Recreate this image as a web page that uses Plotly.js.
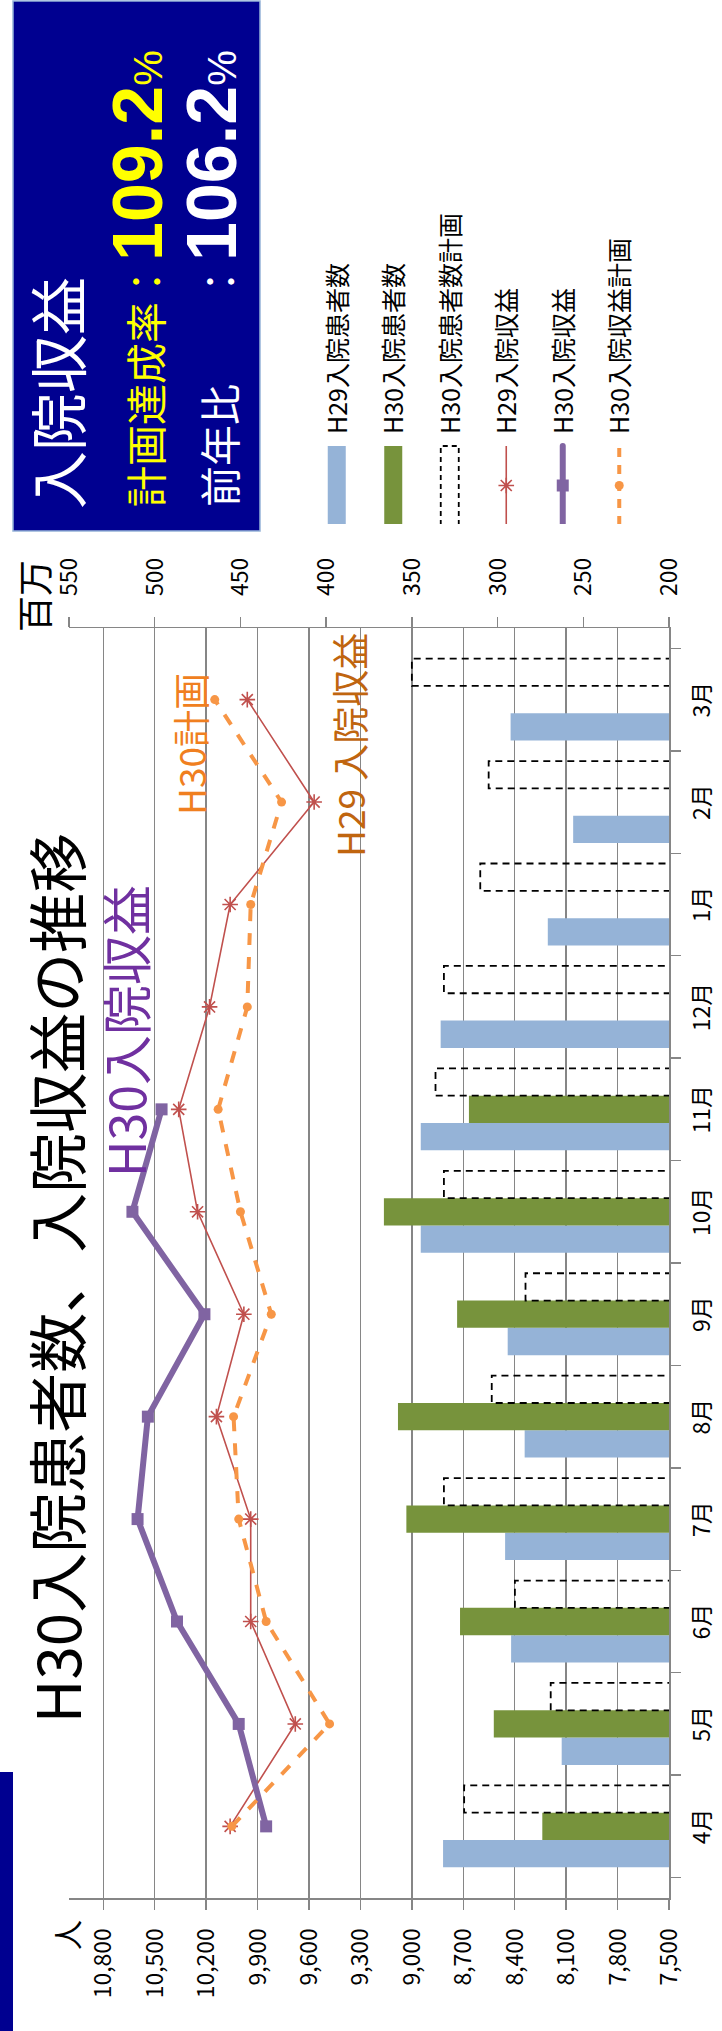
<!DOCTYPE html>
<html><head><meta charset="utf-8">
<script src="https://cdn.plot.ly/plotly-3.0.1.min.js"></script>
<style>
html,body{margin:0;padding:0;width:722px;height:2031px;overflow:hidden;background:#fff;}
#wrap{position:absolute;left:0;top:0;width:2031px;height:722px;transform-origin:0 0;transform:translate(0px,2031px) rotate(-90deg);}
#chart{width:2031px;height:722px;}
</style></head><body>
<div id="wrap"><div id="chart"></div></div>
<script>
// ---- data ----
const months = ['4月','5月','6月','7月','8月','9月','10月','11月','12月','1月','2月','3月'];
const h29Patients     = [8818,8126,8421,8456,8342,8441,8948,8948,8832,8207,8059,8424];
const h30Patients     = [8239,8522,8719,9032,9081,8736,9163,8667,null,null,null,null];
const h30PatientsPlan = [8695,8190,8399,8813,8534,8337,8813,8862,8813,8601,8552,9000];
const h29Revenue      = [456,418,444,444,464,448,475,486,468,456,407,446];
const h30Revenue      = [435,451,487,510,504,471,513,496,null,null,null,null];
const h30RevenuePlan  = [455,398,435,451,454,432,450,463,446,444,426,465];
const seriesNames = ['H29入院患者数','H30入院患者数','H30入院患者数計画','H29入院収益','H30入院収益','H30入院収益計画'];
const seriesColors = ['#95B3D7','#77933C','#000000','#C0504D','#8064A2','#F79646'];
const titleText = 'H30入院患者数、入院収益の推移';
const boxTitle = '入院収益';
const planRate = '109.2';
const prevRate = '106.2';

// ---- layout helpers (figure drawn landscape, then rotated) ----
const W = 2031, H = 722;
const px = X => X / W;
const py = Y => 1 - Y / H;
const JP = '"Noto Sans CJK JP", "Noto Sans", sans-serif';
const axisGray = '#868686';

const traces = [
  {type:'bar', name:seriesNames[0], x:months, y:h29Patients, legendgroup:'a',
   marker:{color:seriesColors[0], line:{width:0}}},
  {type:'bar', name:seriesNames[1], x:months, y:h30Patients, legendgroup:'b',
   marker:{color:seriesColors[1], line:{width:0}}},
  {type:'bar', name:seriesNames[2], x:months, y:h30PatientsPlan, legendgroup:'c',
   marker:{color:'rgba(255,255,255,0)', line:{color:seriesColors[2], width:1.8}}},
  {type:'scatter', mode:'lines+markers', name:seriesNames[3], x:months, y:h29Revenue, yaxis:'y2', legendgroup:'d',
   line:{color:seriesColors[3], width:1.6},
   marker:{symbol:'asterisk-open', size:13, color:seriesColors[3], line:{color:seriesColors[3], width:1.6}}},
  {type:'scatter', mode:'lines+markers', name:seriesNames[4], x:months, y:h30Revenue, yaxis:'y2', legendgroup:'e',
   line:{color:seriesColors[4], width:6},
   marker:{symbol:'square', size:12, color:seriesColors[4]}},
  {type:'scatter', mode:'lines+markers', name:seriesNames[5], x:months, y:h30RevenuePlan, yaxis:'y2', legendgroup:'f',
   line:{color:seriesColors[5], width:4, dash:'dash'},
   marker:{symbol:'circle', size:9, color:seriesColors[5]}}
];

const tickFont = {family:JP, size:23, color:'#000'};

const layout = {
  width:W, height:H,
  margin:{l:0, r:0, t:0, b:0},
  paper_bgcolor:'#fff', plot_bgcolor:'rgba(0,0,0,0)',
  barmode:'group', bargap:0.2, bargroupgap:0,
  showlegend:true,
  legend:{x:px(1507), y:py(314), xanchor:'left', yanchor:'top', orientation:'v',
          font:{family:JP, size:25, color:'#000'}, tracegroupgap:21, itemwidth:80,
          bgcolor:'rgba(0,0,0,0)', traceorder:'grouped', borderwidth:0},
  title:{text:titleText, font:{family:JP, size:60, color:'#000'},
         xref:'paper', yref:'container', x:px(753), y:py(60), xanchor:'center', yanchor:'middle'},
  xaxis:{type:'category', domain:[px(133), px(1403)], anchor:'y',
         showline:true, linecolor:axisGray, linewidth:1.5, showgrid:false,
         ticks:'outside', tickson:'boundaries', ticklen:10, tickcolor:axisGray, tickwidth:1.5,
         tickfont:tickFont, ticklabelstandoff:12, fixedrange:true},
  yaxis:{domain:[py(669), py(69)], range:[7500,11000], tick0:7500, dtick:300, tickformat:',d',
         showgrid:true, gridcolor:axisGray, gridwidth:1.5, zeroline:false,
         showline:true, linecolor:axisGray, linewidth:1.5,
         ticks:'outside', ticklen:10, tickcolor:axisGray, tickwidth:1.5,
         tickfont:tickFont, ticklabelstandoff:14, fixedrange:true},
  yaxis2:{overlaying:'y', side:'right', anchor:'x', range:[200,550], tick0:200, dtick:50,
          showgrid:false, zeroline:false,
          showline:true, linecolor:axisGray, linewidth:1.5,
          ticks:'outside', ticklen:10, tickcolor:axisGray, tickwidth:1.5,
          tickfont:tickFont, ticklabelstandoff:16, fixedrange:true},
  shapes:[
    {type:'rect', xref:'paper', yref:'paper', x0:0, x1:px(259), y0:py(0), y1:py(13),
     fillcolor:'#000090', line:{width:0}, layer:'below'},
    {type:'rect', xref:'paper', yref:'paper', x0:px(1500), x1:px(2030), y0:py(13), y1:py(260),
     fillcolor:'#000090', line:{color:'#95B3D7', width:1.5}, layer:'below'}
  ],
  annotations:[
    {text:'人', xref:'paper', yref:'paper', x:px(96), y:py(66), xanchor:'center', yanchor:'middle',
     showarrow:false, font:{family:JP, size:30, color:'#000'}},
    {text:'百万', xref:'paper', yref:'paper', x:px(1435), y:py(33), xanchor:'center', yanchor:'middle',
     showarrow:false, font:{family:JP, size:36, color:'#000'}},
    {text:'H30入院収益', xref:'paper', yref:'paper', x:px(1000), y:py(124), xanchor:'center', yanchor:'middle',
     showarrow:false, font:{family:JP, size:50, color:'#7030A0'}},
    {text:'H30計画', xref:'paper', yref:'paper', x:px(1287), y:py(190), xanchor:'center', yanchor:'middle',
     showarrow:false, font:{family:JP, size:37, color:'#F07F20'}},
    {text:'H29 入院収益', xref:'paper', yref:'paper', x:px(1286), y:py(349), xanchor:'center', yanchor:'middle',
     showarrow:false, font:{family:JP, size:37, color:'#C0650F'}},
    {text:boxTitle, xref:'paper', yref:'paper', x:px(1520), y:py(56), xanchor:'left', yanchor:'middle',
     showarrow:false, font:{family:JP, size:58, color:'#FFFFFF'}},
    {text:'計画達成率：<span style="font-family:Liberation Sans;font-size:70px;font-weight:bold">'+planRate+'</span><span style="font-family:Liberation Sans;font-size:40px">%</span>',
     xref:'paper', yref:'paper', x:px(1522), y:py(138), xanchor:'left', yanchor:'middle',
     showarrow:false, font:{family:JP, size:41, color:'#FFFF00'}},
    {text:'前年比　　：<span style="font-family:Liberation Sans;font-size:70px;font-weight:bold">'+prevRate+'</span><span style="font-family:Liberation Sans;font-size:40px">%</span>',
     xref:'paper', yref:'paper', x:px(1522), y:py(212), xanchor:'left', yanchor:'middle',
     showarrow:false, font:{family:JP, size:41, color:'#FFFFFF'}}
  ]
};

const SVGNS = 'http://www.w3.org/2000/svg';
function mk(tag, attrs){ const e = document.createElementNS(SVGNS, tag); for (const k in attrs) e.setAttribute(k, attrs[k]); return e; }

Plotly.newPlot('chart', traces, layout, {staticPlot:true, displayModeBar:false}).then(function(){
  // dashed outline for the plan bars
  const barTraces = document.querySelectorAll('#chart .barlayer .trace');
  if (barTraces[2]) barTraces[2].querySelectorAll('path').forEach(p => { p.style.strokeDasharray = '7,5'; });
  // long legend keys like the reference
  const items = document.querySelectorAll('#chart .legend .traces');
  items.forEach((it, i) => {
    const txt = it.querySelector('.legendtext');
    if (!txt) return;
    const tx = parseFloat(txt.getAttribute('x')) || 90;
    const x0 = tx - 91, x1 = tx - 12, xc = (x0 + x1) / 2;
    const pt = it.querySelector('.legendpoints path');
    const ptClone = pt ? pt.cloneNode(true) : null;
    it.querySelectorAll('.legendsymbols, .legendlines, .legendfill, .legendpoints').forEach(g => { g.style.display = 'none'; });
    if (i < 3) {
      const r = mk('rect', {x:x0, y:-9, width:x1 - x0, height:18});
      if (i < 2) { r.setAttribute('fill', seriesColors[i]); }
      else { r.setAttribute('fill', 'none'); r.setAttribute('stroke', '#000'); r.setAttribute('stroke-width', '1.8'); r.setAttribute('stroke-dasharray', '5,4'); }
      it.insertBefore(r, txt);
    } else {
      const widths = {3:1.6, 4:6, 5:4};
      const ln = mk('line', {x1:x0, x2:x1, y1:0, y2:0, stroke:seriesColors[i], 'stroke-width':widths[i]});
      if (i === 4) ln.setAttribute('stroke-linecap', 'round');
      if (i === 5) ln.setAttribute('stroke-dasharray', '9,8');
      it.insertBefore(ln, txt);
      if (ptClone) { ptClone.setAttribute('transform', 'translate(' + xc + ',0)'); ptClone.style.display = ''; it.insertBefore(ptClone, txt); }
    }
  });
});
</script>
</body></html>
